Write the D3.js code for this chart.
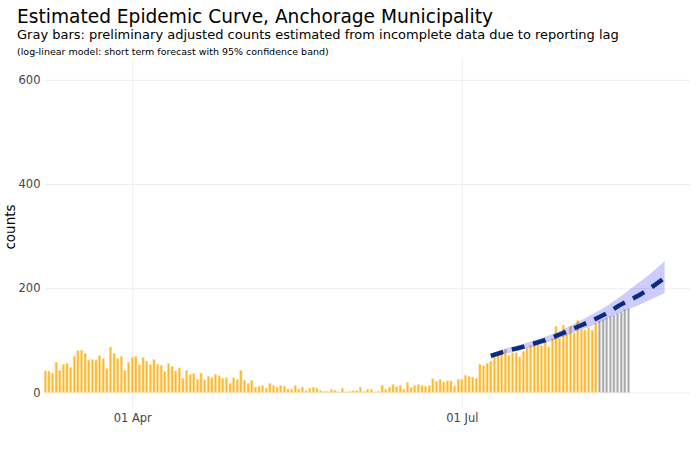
<!DOCTYPE html>
<html>
<head>
<meta charset="utf-8">
<script src="https://cdn.jsdelivr.net/npm/d3@7"></script>
<style>
  body { margin: 0; background: #fff; }
  text { font-family: "DejaVu Sans", verdana, sans-serif; }
</style>
</head>
<body>
<svg width="700" height="450"></svg>
<script>
// daily counts, starting 2020-03-08
const firstDay = '2020-03-08';
const reportedCounts = [
  41, 41, 37, 58, 42, 54, 56, 48, 69, 80, 81, 75, 62, 63, 62, 71, 65, 46, 87, 75, 65, 69, 42, 58, 67, 69, 53, 67, 60, 53, 63, 54,
  52, 40, 55, 50, 41, 47, 27, 42, 34, 36, 25, 37, 24, 31, 28, 35, 32, 27, 28, 17, 28, 25, 42, 23, 17, 23, 10, 12, 13, 8, 17, 13,
  10, 13, 12, 6, 6, 13, 6, 10, 3, 8, 10, 8, 3, 2, 2, 6, 4, 1, 8, 1, 2, 3, 3, 10, 2, 6, 6, 1, 2, 13, 6, 10,
  15, 11, 13, 6, 19, 9, 13, 15, 13, 12, 13, 26, 21, 25, 20, 22, 22, 12, 25, 25, 33, 31, 29, 27, 54, 51, 56, 60, 68, 77, 75, 83,
  71, 76, 76, 68, 79, 85, 90, 93, 92, 90, 99, 87, 103, 127, 104, 129, 111, 127, 114, 138, 120, 120, 124, 119, 132
];
// preliminary adjusted counts (gray), following the reported ones
const adjustedCounts = [137, 140, 143, 146, 148, 151, 154, 159, 161];

// short term forecast
const forecastDates = ['2020-07-09', '2020-07-13', '2020-07-17', '2020-07-21', '2020-07-25', '2020-07-29', '2020-08-02',
  '2020-08-06', '2020-08-10', '2020-08-14', '2020-08-18', '2020-08-22', '2020-08-26'];
const forecastFit = [70, 79, 86, 94, 103, 114, 126, 138, 152, 169, 183, 200, 220];
const forecastLower = [66, 74, 81, 88, 97, 107, 118, 128, 141, 154, 165, 178, 191];
const forecastUpper = [74, 84, 91, 100, 109, 121, 135, 150, 166, 185, 206, 228, 252];

const yTicks = [0, 200, 400, 600];
const xTicks = ['2020-04-01', '2020-07-01'];

const svg = d3.select('svg');
const width = +svg.attr('width');
const height = +svg.attr('height');

const parse = d3.utcParse('%Y-%m-%d');
const dayMs = 864e5;

const render = () => {
  const margin = {top: 58, right: 10, bottom: 42, left: 43.5};
  const innerWidth = width - margin.left - margin.right;
  const innerHeight = height - margin.top - margin.bottom;

  const start = parse(firstDay);
  const bars = reportedCounts.map((v, i) => ({date: new Date(+start + i * dayMs), value: v, prelim: false}))
    .concat(adjustedCounts.map((v, i) => ({
      date: new Date(+start + (reportedCounts.length + i) * dayMs), value: v, prelim: true})));

  const forecast = forecastDates.map((d, i) => ({
    date: parse(d), fit: forecastFit[i], lower: forecastLower[i], upper: forecastUpper[i]}));

  const xScale = d3.scaleUtc()
    .domain([new Date(+start - dayMs / 2), parse('2020-09-02')])
    .range([0, innerWidth]);

  const yScale = d3.scaleLinear()
    .domain([-30, 642])
    .range([innerHeight, 0]);

  const g = svg.append('g')
    .attr('transform', `translate(${margin.left},${margin.top})`);

  // grid + axes
  const yAxis = d3.axisLeft(yScale)
    .tickValues(yTicks)
    .tickSize(-innerWidth)
    .tickPadding(3);
  const yAxisG = g.append('g').call(yAxis);
  yAxisG.select('.domain').remove();
  yAxisG.selectAll('.tick line').attr('stroke', '#eeeeee').attr('x1', 1.5);
  yAxisG.selectAll('.tick text').attr('fill', '#444').attr('font-size', 11.5);

  const xAxis = d3.axisBottom(xScale)
    .tickValues(xTicks.map(parse))
    .tickFormat(d3.utcFormat('%d %b'))
    .tickSize(-innerHeight)
    .tickPadding(6);
  const xAxisG = g.append('g').call(xAxis)
    .attr('transform', `translate(0,${innerHeight})`);
  xAxisG.select('.domain').remove();
  xAxisG.selectAll('.tick line').attr('stroke', '#eeeeee');
  xAxisG.selectAll('.tick text').attr('fill', '#444').attr('font-size', 11.5);

  // bars
  const barW = (xScale(new Date(+start + dayMs)) - xScale(start)) * 0.6;
  g.selectAll('rect.bar').data(bars)
    .enter().append('rect')
      .attr('class', 'bar')
      .attr('x', d => xScale(d.date) - barW / 2)
      .attr('y', d => yScale(d.value))
      .attr('width', barW)
      .attr('height', d => yScale(0) - yScale(d.value))
      .attr('fill', d => d.prelim ? '#a9a9a9' : '#fdb72a')
      .attr('stroke', d => d.prelim ? '#d4d4d4' : '#fedd94')
      .attr('stroke-width', 0.6);

  // confidence band
  const area = d3.area()
    .x(d => xScale(d.date))
    .y0(d => yScale(d.lower))
    .y1(d => yScale(d.upper))
    .curve(d3.curveMonotoneX);
  g.append('path')
    .datum(forecast)
    .attr('d', area)
    .attr('fill', 'rgba(0,0,255,0.2)');

  const line = d3.line()
    .x(d => xScale(d.date))
    .y(d => yScale(d.fit))
    .curve(d3.curveMonotoneX);
  g.append('path')
    .datum(forecast)
    .attr('d', line)
    .attr('fill', 'none')
    .attr('stroke', '#0c2a80')
    .attr('stroke-width', 4.5)
    .attr('stroke-dasharray', '13,9');

  // y label
  svg.append('text')
    .attr('transform', `translate(15,227) rotate(-90)`)
    .attr('text-anchor', 'middle')
    .attr('font-size', 13.5)
    .attr('fill', '#000')
    .text('counts');

  // titles
  svg.append('text')
    .attr('x', 17).attr('y', 23)
    .attr('font-size', 18.6)
    .attr('fill', '#000')
    .text('Estimated Epidemic Curve, Anchorage Municipality');
  svg.append('text')
    .attr('x', 17).attr('y', 39)
    .attr('font-size', 13)
    .attr('fill', '#000')
    .text('Gray bars: preliminary adjusted counts estimated from incomplete data due to reporting lag');
  svg.append('text')
    .attr('x', 17).attr('y', 55)
    .attr('font-size', 9.5)
    .attr('fill', '#000')
    .text('(log-linear model: short term forecast with 95% confidence band)');
};

render();
</script>
</body>
</html>
